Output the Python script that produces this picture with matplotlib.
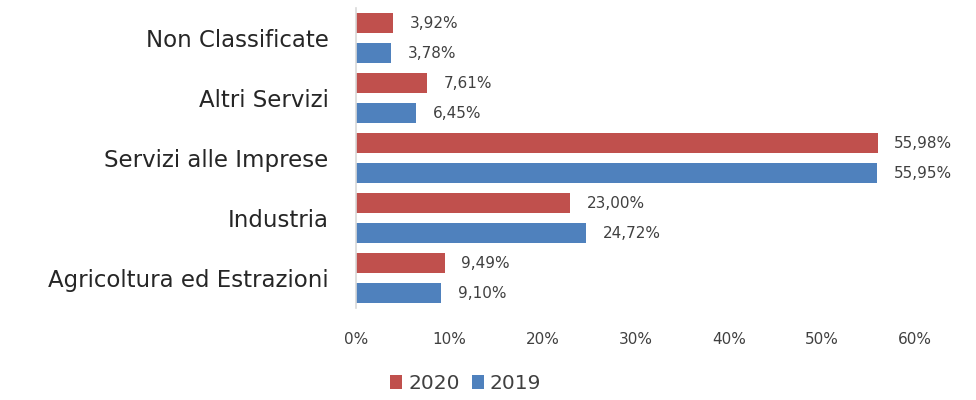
import matplotlib
matplotlib.use("Agg")
import matplotlib.pyplot as plt
import numpy as np

categories = ["Agricoltura ed Estrazioni", "Industria", "Servizi alle Imprese", "Altri Servizi", "Non Classificate"]
v2020 = [9.49, 23.00, 55.98, 7.61, 3.92]
v2019 = [9.10, 24.72, 55.95, 6.45, 3.78]
xticks = [0, 10, 20, 30, 40, 50, 60]

red = "#C0504D"
blue = "#4F81BD"

plt.rcParams['font.family'] = ['DejaVu Sans']

fig = plt.figure(figsize=(9.76, 4.0), dpi=100)
ax = fig.add_axes([0.365, 0.23, 0.5725, 0.75])

y = np.arange(len(categories))
h = 0.333
b1 = ax.barh(y + 0.25, v2020, height=h, color=red, label="2020")
b2 = ax.barh(y - 0.25, v2019, height=h, color=blue, label="2019")

def fmt(v):
    return f"{v:.2f}%".replace(".", ",")

for bars, vals in ((b1, v2020), (b2, v2019)):
    for bar, v in zip(bars, vals):
        ax.annotate(fmt(v), (bar.get_width(), bar.get_y() + bar.get_height()/2),
                    xytext=(12, 0), textcoords="offset points", va="center", ha="left",
                    fontsize=11, color="#404040")

ax.set_xlim(0, 60)
ax.set_ylim(-0.5, len(categories) - 0.5)
ax.set_xticks(xticks)
ax.set_xticklabels([f"{t}%" for t in xticks], fontsize=11, color="#404040")
ax.set_yticks(y)
ax.set_yticklabels(categories, fontsize=16.5, color="#262626")
ax.tick_params(axis="both", length=0)
ax.tick_params(axis="x", pad=17)
ax.tick_params(axis="y", pad=20)
for s in ["top", "right", "bottom"]:
    ax.spines[s].set_visible(False)
ax.spines["left"].set_color("#D9D9D9")
ax.spines["left"].set_linewidth(1.2)

fig.legend(handles=[b1, b2], labels=["2020", "2019"], loc="center",
           bbox_to_anchor=(0.477, 0.042), ncol=2, frameon=False, fontsize=14.5,
           handlelength=0.6, handleheight=0.7, handletextpad=0.3, columnspacing=0.6,
           labelcolor="#404040")

fig.savefig("out.png", dpi=100)
